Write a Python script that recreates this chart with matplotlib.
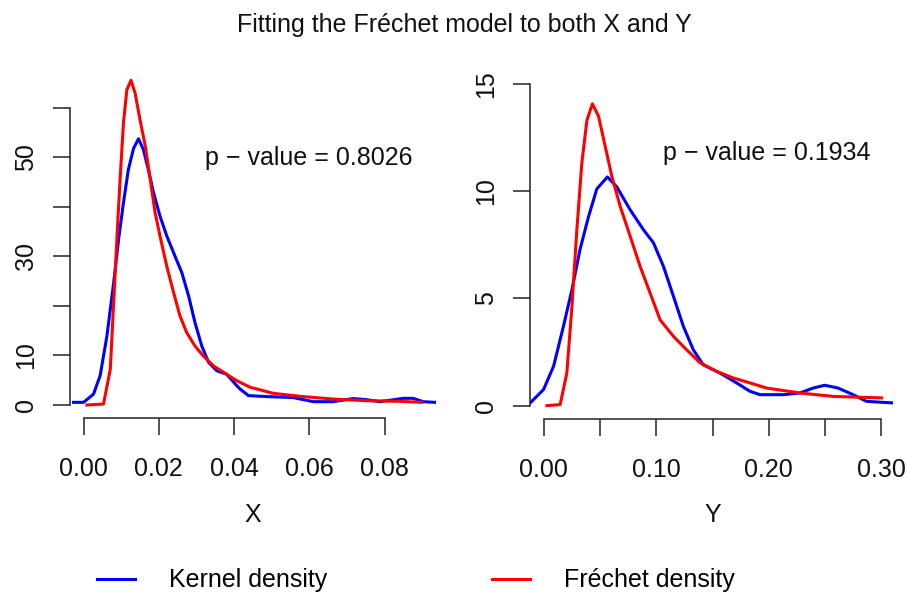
import matplotlib
matplotlib.use('Agg')
import matplotlib.pyplot as plt
from matplotlib.lines import Line2D

plt.rcParams['font.family'] = ['Liberation Sans', 'DejaVu Sans']

# ---------------- data ----------------
title = "Fitting the Fréchet model to both X and Y"

# Left panel (X)
kx_x = [-0.00265, 0.0, 0.00265, 0.0044, 0.0062, 0.008, 0.0093, 0.0106, 0.0119, 0.0133,
        0.0146, 0.0159, 0.0172, 0.0186, 0.0203, 0.0221, 0.0243, 0.0261, 0.0279, 0.0296,
        0.0314, 0.0332, 0.0354, 0.038, 0.0407, 0.0416, 0.0438, 0.0486, 0.0557, 0.061,
        0.0663, 0.0716, 0.0752, 0.0787, 0.0849, 0.0875, 0.0902, 0.0933]
kx_y = [0.54, 0.54, 2.2, 5.9, 13.9, 24.7, 33.4, 40.8, 47.5, 51.8,
        53.7, 51.5, 47.5, 42.8, 38.1, 34.1, 30.0, 26.7, 22.0, 16.6,
        11.9, 8.6, 6.9, 6.2, 3.9, 3.2, 1.9, 1.7, 1.5, 0.67,
        0.67, 1.3, 1.07, 0.67, 1.35, 1.35, 0.67, 0.54]
fx_x = [0.0009, 0.0053, 0.0071, 0.008, 0.0089, 0.0097, 0.0106, 0.0115, 0.0126, 0.0137,
        0.015, 0.0164, 0.0177, 0.019, 0.0203, 0.0221, 0.0239, 0.0256, 0.0274, 0.0296,
        0.0318, 0.0345, 0.038, 0.0407, 0.0442, 0.0504, 0.0575, 0.0663, 0.0752, 0.084,
        0.0898]
fx_y = [0.0, 0.2, 7.2, 20.7, 34.1, 45.5, 56.9, 63.6, 65.5, 62.9,
        57.5, 52.2, 45.5, 38.8, 34.1, 28.0, 22.7, 18.0, 14.6, 11.9,
        9.9, 7.9, 6.2, 4.9, 3.6, 2.35, 1.75, 1.2, 0.87, 0.74,
        0.54]

# Right panel (Y)
ky_x = [-0.0118, 0.0, 0.0089, 0.0177, 0.0252, 0.0325, 0.0399, 0.0473, 0.0567, 0.065,
        0.0769, 0.0887, 0.0975, 0.1064, 0.1153, 0.1241, 0.133, 0.1418, 0.1566, 0.1714,
        0.1832, 0.1921, 0.2128, 0.2276, 0.2394, 0.2497, 0.2615, 0.2748, 0.2867, 0.3089]
ky_y = [0.13, 0.75, 1.83, 3.7, 5.4, 7.3, 8.8, 10.1, 10.66, 10.2,
        9.13, 8.2, 7.6, 6.5, 5.1, 3.7, 2.6, 1.9, 1.52, 1.06,
        0.67, 0.51, 0.51, 0.59, 0.82, 0.95, 0.82, 0.51, 0.2, 0.13]
fy_x = [0.003, 0.0148, 0.0207, 0.0252, 0.0296, 0.034, 0.0385, 0.0434, 0.0488, 0.0547,
        0.0606, 0.068, 0.0769, 0.0857, 0.0946, 0.1035, 0.1153, 0.1271, 0.1389, 0.1537,
        0.1684, 0.1832, 0.198, 0.2276, 0.2571, 0.3]
fy_y = [0.0, 0.05, 1.52, 4.6, 8.2, 11.3, 13.3, 14.07, 13.5, 12.1,
        10.7, 9.3, 7.9, 6.5, 5.25, 4.0, 3.23, 2.6, 2.0, 1.6,
        1.29, 1.06, 0.82, 0.59, 0.43, 0.36]

left_xticks = [0.00, 0.02, 0.04, 0.06, 0.08]
left_xticklabels = ["0.00", "0.02", "0.04", "0.06", "0.08"]
left_yticks = [0, 10, 20, 30, 40, 50, 60]
left_yticklabels = ["0", "10", "", "30", "", "50", ""]
right_xticks = [0.00, 0.05, 0.10, 0.15, 0.20, 0.25, 0.30]
right_xticklabels = ["0.00", "", "0.10", "", "0.20", "", "0.30"]
right_yticks = [0, 5, 10, 15]
right_yticklabels = ["0", "5", "10", "15"]

pval_x_text = "p \u2212 value = 0.8026"
pval_y_text = "p \u2212 value = 0.1934"
legend_labels = ["Kernel density", "Fréchet density"]
kernel_color = "#0000FF"
frechet_color = "#FF0000"

# ---------------- figure ----------------
W, H = 907, 592
fig = plt.figure(figsize=(W / 100, H / 100), dpi=100)
FS = 18

ax1 = fig.add_axes([70 / W, (H - 418) / H, 366 / W, (418 - 67.4) / H])
ax2 = fig.add_axes([530 / W, (H - 418.5) / H, 365 / W, (418.5 - 71) / H])


def style(ax, xt, xtl, yt, ytl, xb, yb, xlabel):
    for s in ["top", "right"]:
        ax.spines[s].set_visible(False)
    ax.spines["left"].set_bounds(*yb)
    ax.spines["bottom"].set_bounds(*xb)
    for s in ["left", "bottom"]:
        ax.spines[s].set_linewidth(1.1)
        ax.spines[s].set_color("#222222")
    ax.set_xticks(xt)
    ax.set_xticklabels(xtl)
    ax.set_yticks(yt)
    ax.set_yticklabels(ytl)
    ax.tick_params(axis="both", direction="out", length=12.2, width=1.1,
                   color="#222222", labelsize=FS, labelcolor="#111111")
    ax.tick_params(axis="x", pad=16)
    ax.tick_params(axis="y", pad=10.5)
    for lab in ax.get_yticklabels():
        lab.set_rotation(90)
        lab.set_va("center")
        lab.set_ha("right")
    ax.set_xlabel(xlabel, fontsize=FS, color="#111111")
    ax.xaxis.label.set_va("center")
    ax.patch.set_visible(False)


ax1.plot(kx_x, kx_y, color=kernel_color, lw=2.2)
ax1.plot(fx_x, fx_y, color=frechet_color, lw=2.2)
ax1.set_xlim(-0.0036, 0.0936)
ax1.set_ylim(-2.62, 68.1)
style(ax1, left_xticks, left_xticklabels, left_yticks, left_yticklabels,
      (0, 0.08), (0, 60), "X")
ax1.xaxis.set_label_coords(0.5, (418 - 515) / (418 - 67.4))
ax1.text(0.0597, 49.9, pval_x_text, fontsize=FS, ha="center", va="center", color="#111111")

ax2.plot(ky_x, ky_y, color=kernel_color, lw=2.2)
ax2.plot(fy_x, fy_y, color=frechet_color, lw=2.2)
ax2.set_xlim(-0.012, 0.312)
ax2.set_ylim(-0.6, 15.6)
style(ax2, right_xticks, right_xticklabels, right_yticks, right_yticklabels,
      (0, 0.30), (0, 15), "Y")
ax2.xaxis.set_label_coords(0.5, (418.5 - 515) / (418.5 - 71))
ax2.text(0.198, 11.78, pval_y_text, fontsize=FS, ha="center", va="center", color="#111111")

fig.text(464 / W, 1 - 31.7 / H, title, fontsize=FS, ha="center", va="baseline", color="#111111")

handles = [Line2D([], [], color=kernel_color, lw=2.2),
           Line2D([], [], color=frechet_color, lw=2.2)]
fig.legend(handles, legend_labels, ncol=2, loc="center left",
           bbox_to_anchor=(97 / W, 1 - 580.5 / H), frameon=False, fontsize=FS,
           handlelength=1.52, handletextpad=1.36, columnspacing=6.6,
           borderpad=0, borderaxespad=0)

fig.savefig("out.png", dpi=100)
